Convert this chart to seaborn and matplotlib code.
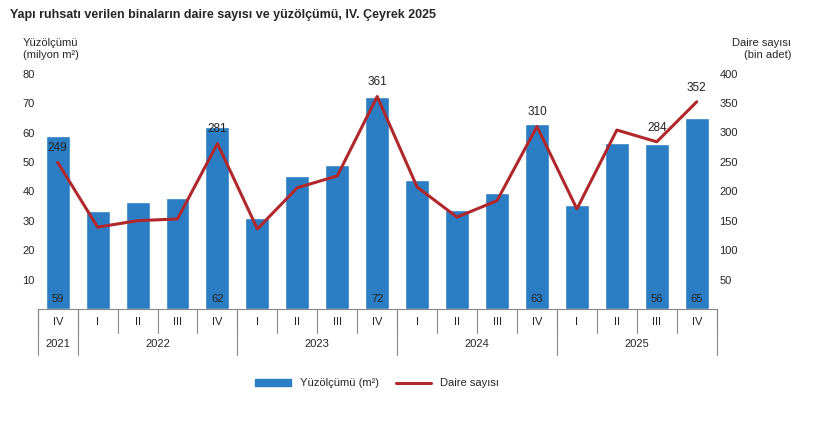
import matplotlib
matplotlib.use("Agg")
import matplotlib.pyplot as plt
import seaborn as sns
import pandas as pd
import numpy as np

quarters = ["IV","I","II","III","IV","I","II","III","IV","I","II","III","IV","I","II","III","IV"]
years = ["2021","2022","2023","2024","2025"]
year_spans = [1,4,4,4,4]
area = [59,33.3,36.4,37.8,62,31,45.2,49,72,43.9,33.7,39.5,63,35.4,56.5,56,65]
dwell = [249,139,150,153,281,136,206,226,361,207,156,184,310,170,304,284,352]
area_labels = {0:"59",4:"62",8:"72",12:"63",15:"56",16:"65"}
dwell_labels = {0:"249",4:"281",8:"361",12:"310",15:"284",16:"352"}

sns.set_style("white")
plt.rcParams['font.family'] = ['Liberation Sans', 'DejaVu Sans']
fig = plt.figure(figsize=(8.2,4.25), dpi=100)
ax = fig.add_axes([0.046,0.273,0.828,0.572])
x = np.arange(len(quarters))
df = pd.DataFrame({"x":x,"area":area,"dwell":dwell})
bcol = "#2B7EC4"; lcol = "#B0282C"
sns.barplot(data=df, x="x", y="area", color=bcol, width=0.6, ax=ax, saturation=1, label="Yüzölçümü (m²)")
if ax.get_legend() is not None:
    ax.get_legend().remove()
ax.set_ylim(0,82.7); ax.set_xlim(-0.5,len(x)-0.5)
ax.set_yticks(range(10,81,10)); ax.set_xticks([])
ax.set_xlabel(""); ax.set_ylabel("")
ax.tick_params(axis='y', labelsize=8, length=0, pad=2)
for s in ["top","right","left"]: ax.spines[s].set_visible(False)
ax.spines["bottom"].set_color("#888")
for i,t in area_labels.items():
    ax.text(i, 3.5, t, ha="center", va="center", fontsize=8, color="#222")
ax2 = ax.twinx()
ax2.plot(x, dwell, color=lcol, lw=2.2, label="Daire sayısı")
ax2.set_ylim(0,413); ax2.set_yticks(range(50,401,50))
ax2.tick_params(axis='y', labelsize=8, length=0, pad=2)
for s in ["top","right","left","bottom"]: ax2.spines[s].set_visible(False)
for i,t in dwell_labels.items():
    ax2.text(i, dwell[i]+14, t, ha="center", va="bottom", fontsize=8.5, color="#222")
tr = ax.get_xaxis_transform()
for i,q in enumerate(quarters):
    ax.text(i, -0.055, q, transform=tr, ha="center", va="center", fontsize=8)
for b in np.arange(-0.5, len(x)):
    ax.plot([b,b],[0,-0.1], transform=tr, color="#888", lw=0.8, clip_on=False)
pos = -0.5
for y,sp in zip(years,year_spans):
    ax.text(pos+sp/2, -0.145, y, transform=tr, ha="center", va="center", fontsize=8)
    pos += sp
    ax.plot([pos,pos],[0,-0.19], transform=tr, color="#888", lw=0.8, clip_on=False)
ax.plot([-0.5,-0.5],[0,-0.19], transform=tr, color="#888", lw=0.8, clip_on=False)
fig.text(0.012,0.965,"Yapı ruhsatı verilen binaların daire sayısı ve yüzölçümü, IV. Çeyrek 2025",
         fontsize=9, fontweight="bold", va="center")
fig.text(0.028,0.885,"Yüzölçümü\n(milyon m²)", fontsize=8, ha="left", va="center", linespacing=1.2)
fig.text(0.965,0.885,"Daire sayısı\n(bin adet)", fontsize=8, ha="right", va="center", linespacing=1.2)
h1 = [plt.Rectangle((0,0),1,1,color=bcol)]
h2,l2 = ax2.get_legend_handles_labels()
fig.legend(h1+h2, ["Yüzölçümü (m²)"]+l2, loc="center", bbox_to_anchor=(0.46,0.098), ncol=2, frameon=False,
           fontsize=8, handlelength=3.2, handleheight=0.6, columnspacing=1.5)
fig.savefig("out.png", dpi=100)
